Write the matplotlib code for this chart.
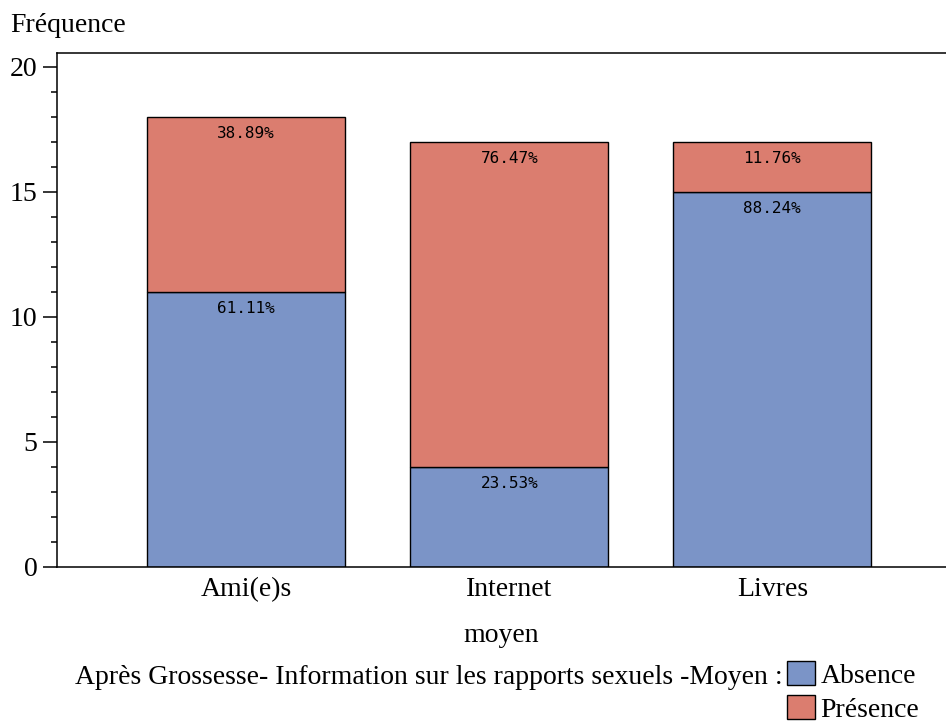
import matplotlib
matplotlib.use("Agg")
import matplotlib.pyplot as plt
from matplotlib.ticker import MultipleLocator

plt.rcParams['font.family'] = ['Liberation Serif', 'DejaVu Serif']

categories = ["Ami(e)s", "Internet", "Livres"]
absence = [11, 4, 15]
presence = [7, 13, 2]
pct_absence = ["61.11%", "23.53%", "88.24%"]
pct_presence = ["38.89%", "76.47%", "11.76%"]

blue = "#7b94c7"
red = "#db7d6f"
fs = 20

fig = plt.figure(figsize=(9.46, 7.22), dpi=100)
ax = fig.add_axes([57/946, 1-567/722, 1-57/946, (567-53)/722])

x = range(len(categories))
b1 = ax.bar(x, absence, width=0.753, color=blue, edgecolor="black", linewidth=1.0, label="Absence")
b2 = ax.bar(x, presence, width=0.753, bottom=absence, color=red, edgecolor="black", linewidth=1.0, label="Présence")

# pourcentages dans chaque segment
for i in x:
    ax.text(i, absence[i] - 0.66, pct_absence[i], ha="center", va="center",
            fontsize=11.5, family="DejaVu Sans Mono")
    ax.text(i, absence[i] + presence[i] - 0.66, pct_presence[i], ha="center", va="center",
            fontsize=11.5, family="DejaVu Sans Mono")

ax.set_xlim(-0.719, 2.66)
ax.set_ylim(0, 20.55)
ax.set_xticks(list(x))
ax.set_xticklabels(categories, fontsize=fs)
ax.set_yticks([0, 5, 10, 15, 20])
ax.tick_params(axis="y", labelsize=fs, length=10, width=1.1, pad=4)
ax.yaxis.set_minor_locator(MultipleLocator(1))
ax.tick_params(axis="y", which="minor", length=4, width=1.1)
ax.tick_params(axis="x", length=0, pad=7)
ax.spines["right"].set_visible(False)
for s in ["left", "bottom", "top"]:
    ax.spines[s].set_linewidth(1.1)

ax.set_xlabel("moyen", fontsize=fs, labelpad=15)
fig.text(10/946, 1-26/722, "Fréquence", fontsize=fs, ha="left", va="center")

fig.text(783/946, 1-677/722, "Après Grossesse- Information sur les rapports sexuels -Moyen :",
         fontsize=fs, ha="right", va="center")
fig.legend(handles=[b1, b2], loc="upper left", bbox_to_anchor=(787/946, 1-661/722),
           frameon=False, fontsize=fs, handlelength=1.0, handleheight=0.95,
           handletextpad=0.2, labelspacing=0.25, borderpad=0, borderaxespad=0)

fig.savefig("out.png", dpi=100)
